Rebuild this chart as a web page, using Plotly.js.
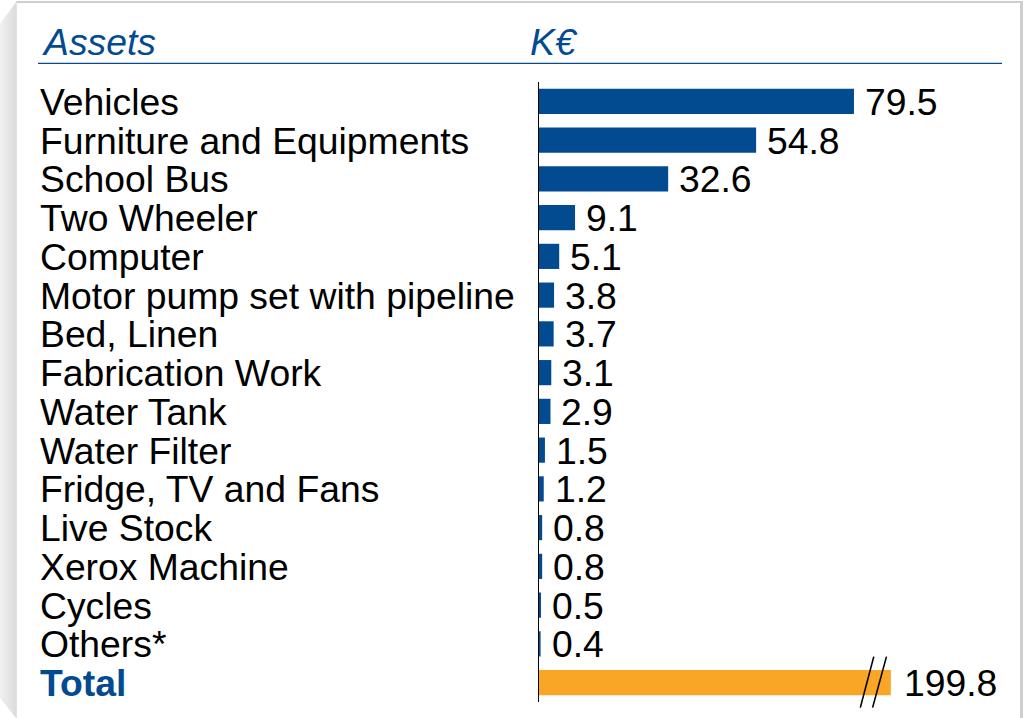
<!DOCTYPE html>
<html>
<head>
<meta charset="utf-8">
<script src="https://cdn.plot.ly/plotly-3.0.1.min.js"></script>
<style>
  html, body { margin: 0; padding: 0; background: #ffffff; }
  body { width: 1023px; height: 718px; position: relative; overflow: hidden; font-family: "Liberation Sans", Arial, sans-serif; }
  #shadow { position: absolute; left: 0; top: 0; width: 16px; height: 718px;
    background: linear-gradient(to right, #f1f1f1, #dcdcdc);
    clip-path: polygon(0px 24px, 16px 2px, 16px 718px, 0px 698px); }
  #card { position: absolute; left: 16px; top: 1px; width: 1003px; height: 730px;
    background: #ffffff; border-top: 2px solid #cfcfcf; border-right: 3px solid #cfcfcf; border-left: 1px solid #e2e2e2; }
  #chart { position: absolute; left: 0; top: 0; width: 1023px; height: 718px; }
</style>
</head>
<body>
<div id="shadow"></div>
<div id="card"></div>
<div id="chart"></div>
<script>
const categories = ["Vehicles", "Furniture and Equipments", "School Bus", "Two Wheeler", "Computer",
  "Motor pump set with pipeline", "Bed, Linen", "Fabrication Work", "Water Tank", "Water Filter",
  "Fridge, TV and Fans", "Live Stock", "Xerox Machine", "Cycles", "Others*", "Total"];
const values = [79.5, 54.8, 32.6, 9.1, 5.1, 3.8, 3.7, 3.1, 2.9, 1.5, 1.2, 0.8, 0.8, 0.5, 0.4, 199.8];
const valueLabels = ["79.5", "54.8", "32.6", "9.1", "5.1", "3.8", "3.7", "3.1", "2.9", "1.5", "1.2", "0.8", "0.8", "0.5", "0.4", "199.8"];
const headerLeft = "Assets";
const headerRight = "K€";
const axisBreak = 88.8;   // axis is broken for the Total bar

const BLUE = "#034b91";
const ORANGE = "#f9a526";
const FONT = "Liberation Sans, Arial, sans-serif";
const FS = 37.3;

const W = 1023, H = 718;
const mL = 539, mR = 23, mT = 81.6, mB = 15.6;
const plotW = W - mL - mR;
const pxPerUnit = 3.962;
const xMax = plotW / pxPerUnit;
const plotH = H - mT - mB;
const px2paperY = py => (H - mB - py) / plotH;
const px2paperX = px => (px - mL) / plotW;

const isTotal = categories.map(c => c === "Total");
const drawn = values.map((v, i) => isTotal[i] ? Math.min(v, axisBreak) : v);

const trace = {
  type: "bar", orientation: "h",
  y: categories, x: drawn,
  marker: { color: isTotal.map(t => t ? ORANGE : BLUE), line: { width: 0 } },
  width: 0.65,
  hoverinfo: "skip"
};

const annotations = [];
categories.forEach((c, i) => {
  annotations.push({
    xref: "paper", yref: "y", x: 0, y: c, xanchor: "left", yanchor: "middle",
    xshift: -(mL - 38), yshift: -0.5, showarrow: false, text: isTotal[i] ? "<b>" + c + "</b>" : c,
    font: { family: FONT, size: FS, color: isTotal[i] ? BLUE : "#000000" }
  });
  annotations.push({
    xref: "x", yref: "y", x: drawn[i], y: c, xanchor: "left", yanchor: "middle",
    xshift: isTotal[i] ? 11 : 9, yshift: -0.5, showarrow: false, text: valueLabels[i],
    font: { family: FONT, size: FS, color: "#000000" }
  });
});
annotations.push({
  xref: "paper", yref: "paper", x: 0, y: px2paperY(42), xanchor: "left", yanchor: "middle",
  xshift: -(mL - 40), showarrow: false, text: "<i>" + headerLeft + "</i>",
  font: { family: FONT, size: FS, color: BLUE }
});
annotations.push({
  xref: "paper", yref: "paper", x: 0, y: px2paperY(42), xanchor: "left", yanchor: "middle",
  xshift: -(mL - 528), showarrow: false, text: "<i>" + headerRight + "</i>",
  font: { family: FONT, size: FS, color: BLUE }
});

const shapes = [
  { type: "line", xref: "paper", yref: "paper", x0: px2paperX(38), x1: px2paperX(1002),
    y0: px2paperY(63), y1: px2paperY(63), line: { color: BLUE, width: 1.2 } },
  { type: "line", xref: "x", yref: "paper", x0: axisBreak - 7.7, x1: axisBreak - 4.3,
    y0: px2paperY(708), y1: px2paperY(657), line: { color: "#000000", width: 1.6 } },
  { type: "line", xref: "x", yref: "paper", x0: axisBreak - 4.6, x1: axisBreak - 1.1,
    y0: px2paperY(708), y1: px2paperY(657), line: { color: "#000000", width: 1.6 } }
];

const layout = {
  width: W, height: H,
  margin: { l: mL, r: mR, t: mT, b: mB, pad: 0 },
  paper_bgcolor: "rgba(0,0,0,0)", plot_bgcolor: "rgba(0,0,0,0)",
  showlegend: false,
  bargap: 0.35,
  xaxis: { range: [0, xMax], showgrid: false, zeroline: false, showline: false, showticklabels: false, ticks: "", fixedrange: true },
  yaxis: { type: "category", autorange: false, range: [categories.length - 0.5, -0.5],
    showgrid: false, zeroline: false, showline: true, linecolor: "#000000", linewidth: 1.5,
    showticklabels: false, ticks: "", fixedrange: true },
  annotations: annotations,
  shapes: shapes
};

Plotly.newPlot("chart", [trace], layout, { displayModeBar: false, staticPlot: true });
</script>
</body>
</html>
